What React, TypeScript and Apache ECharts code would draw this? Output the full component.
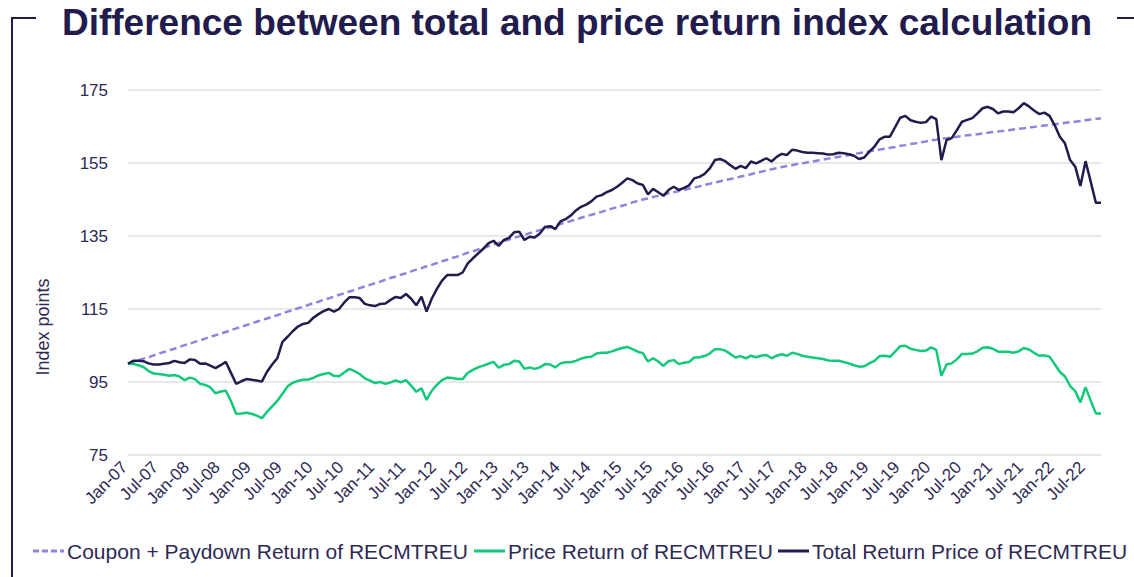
import React, { useEffect, useRef } from "react";
import * as echarts from "echarts";

const monthNames = ["Jan", "Feb", "Mar", "Apr", "May", "Jun", "Jul", "Aug", "Sep", "Oct", "Nov", "Dec"];
const startYear = 2007;
const monthCount = 190; // Jan-07 .. Oct-22
const categories: string[] = [];
for (let k = 0; k < monthCount; k++) {
  const y = startYear + Math.floor(k / 12);
  categories.push(`${monthNames[k % 12]}-${String(y).slice(2)}`);
}

const yTicks = { min: 75, max: 175, interval: 20 };

const couponPaydown = [
  100.0, 100.5, 100.9, 101.4, 101.8, 102.3, 102.8, 103.2, 103.7, 104.1,
  104.6, 105.1, 105.5, 106.0, 106.4, 106.9, 107.4, 107.8, 108.3, 108.7,
  109.2, 109.7, 110.1, 110.6, 111.0, 111.5, 112.0, 112.4, 112.9, 113.3,
  113.8, 114.3, 114.7, 115.2, 115.6, 116.1, 116.6, 117.0, 117.5, 117.9,
  118.4, 118.9, 119.3, 119.8, 120.2, 120.7, 121.2, 121.6, 122.1, 122.5,
  123.0, 123.5, 123.9, 124.4, 124.8, 125.3, 125.8, 126.2, 126.7, 127.1,
  127.6, 128.1, 128.5, 129.0, 129.4, 129.9, 130.4, 130.8, 131.3, 131.7,
  132.2, 132.7, 133.1, 133.6, 134.0, 134.5, 134.9, 135.3, 135.8, 136.2,
  136.6, 137.0, 137.4, 137.9, 138.3, 138.7, 139.1, 139.5, 140.0, 140.4,
  140.8, 141.2, 141.6, 142.1, 142.5, 142.9, 143.3, 143.7, 144.2, 144.6,
  145.0, 145.3, 145.7, 146.0, 146.3, 146.7, 147.0, 147.3, 147.6, 148.0,
  148.3, 148.6, 149.0, 149.3, 149.6, 150.0, 150.3, 150.6, 150.9, 151.3,
  151.6, 151.9, 152.3, 152.6, 152.9, 153.3, 153.6, 153.9, 154.2, 154.4,
  154.7, 154.9, 155.2, 155.4, 155.7, 155.9, 156.2, 156.4, 156.7, 156.9,
  157.2, 157.4, 157.7, 157.9, 158.2, 158.4, 158.7, 158.9, 159.2, 159.4,
  159.7, 159.9, 160.2, 160.4, 160.7, 160.9, 161.2, 161.4, 161.7, 161.8,
  162.0, 162.2, 162.4, 162.6, 162.7, 162.9, 163.1, 163.3, 163.5, 163.6,
  163.8, 164.0, 164.2, 164.4, 164.5, 164.7, 164.9, 165.1, 165.3, 165.4,
  165.6, 165.8, 166.0, 166.2, 166.3, 166.5, 166.7, 166.9, 167.1, 167.2,
];

const priceReturn = [
  100.0, 100.0, 99.6, 99.1, 98.0, 97.3, 97.2, 97.0, 96.7, 96.9,
  96.5, 95.5, 96.2, 95.8, 94.5, 94.2, 93.5, 91.9, 92.4, 92.6,
  89.8, 86.3, 86.4, 86.6, 86.3, 85.8, 85.1, 86.8, 88.3, 89.8,
  91.8, 93.8, 94.8, 95.3, 95.6, 95.7, 96.1, 96.8, 97.2, 97.5,
  96.7, 96.6, 97.6, 98.6, 98.0, 97.2, 96.0, 95.4, 94.7, 95.0,
  94.5, 94.9, 95.4, 94.9, 95.5, 94.0, 92.3, 93.3, 90.1, 92.6,
  94.2, 95.5, 96.2, 96.1, 95.8, 95.8, 97.5, 98.3, 99.0, 99.5,
  100.0, 100.5, 98.9, 99.7, 99.9, 100.8, 100.6, 98.6, 99.0, 98.6,
  99.0, 99.9, 99.8, 99.0, 100.1, 100.4, 100.4, 100.8, 101.4, 101.8,
  101.9, 102.8, 103.0, 103.0, 103.4, 103.9, 104.3, 104.6, 104.0, 103.3,
  102.9, 100.6, 101.5, 100.6, 99.4, 100.7, 101.0, 99.9, 100.3, 100.5,
  101.7, 101.8, 102.1, 102.8, 104.0, 104.0, 103.6, 102.7, 101.7, 102.1,
  101.5, 102.2, 101.8, 102.2, 102.4, 101.5, 102.2, 102.6, 102.2, 103.0,
  102.7, 102.2, 101.9, 101.7, 101.5, 101.3, 100.9, 100.8, 100.8, 100.5,
  100.1, 99.6, 99.2, 99.3, 100.1, 100.8, 102.1, 102.2, 101.9, 103.3,
  104.8, 104.9, 104.1, 103.8, 103.5, 103.6, 104.5, 103.8, 96.7, 99.8,
  100.1, 101.2, 102.7, 102.7, 102.8, 103.4, 104.4, 104.5, 104.1, 103.3,
  103.3, 103.3, 103.0, 103.4, 104.3, 103.9, 103.0, 102.2, 102.3, 101.9,
  99.9, 97.8, 96.5, 93.9, 92.5, 89.4, 93.6, 89.9, 86.4, 86.4,
];

const totalReturn = [
  100.0, 100.8, 100.8, 100.7, 100.1, 99.8, 99.8, 100.0, 100.2, 100.8,
  100.4, 100.2, 101.2, 101.0, 100.0, 100.1, 99.5, 98.8, 99.6, 100.5,
  97.5, 94.5, 95.2, 95.8, 95.6, 95.4, 95.1, 97.8, 99.8, 101.5,
  106.0, 107.4, 108.9, 110.2, 110.9, 111.2, 112.6, 113.6, 114.4, 115.0,
  114.3, 115.0, 116.8, 118.2, 118.2, 118.0, 116.4, 116.0, 115.8, 116.4,
  116.5, 117.5, 118.3, 118.0, 119.1, 117.8, 116.0, 118.4, 114.3, 117.8,
  120.5, 122.8, 124.3, 124.3, 124.3, 125.0, 127.5, 128.9, 130.2, 131.5,
  133.0, 133.7, 132.3, 133.9, 134.5, 136.0, 136.2, 133.9, 134.8, 134.6,
  135.7, 137.5, 137.7, 136.9, 139.0, 139.6, 140.6, 142.0, 143.0, 143.6,
  144.5, 145.8, 146.2, 147.0, 147.6, 148.5, 149.6, 150.8, 150.3, 149.4,
  149.0, 146.4, 147.9, 147.0, 146.0, 147.6, 148.5, 147.6, 148.2, 148.9,
  150.8, 151.2, 152.0, 153.5, 155.8, 156.1, 155.5, 154.4, 153.4, 154.2,
  153.6, 155.4, 154.9, 155.6, 156.3, 155.4, 156.7, 157.5, 157.2, 158.6,
  158.4, 158.0, 157.8, 157.8, 157.7, 157.6, 157.3, 157.4, 157.8, 157.7,
  157.4, 157.0, 156.1, 156.5, 158.1, 159.5, 161.5, 162.2, 162.2, 164.8,
  167.4, 167.9, 166.7, 166.3, 166.0, 166.2, 167.7, 167.0, 155.8, 161.3,
  161.8, 164.0, 166.3, 166.8, 167.3, 168.6, 170.0, 170.4, 169.8, 168.6,
  169.1, 169.1, 168.9, 170.0, 171.4, 170.5, 169.4, 168.4, 168.8, 167.9,
  165.4, 162.2, 160.4, 155.8, 154.0, 148.7, 155.5, 149.9, 144.1, 144.1,
];

const seriesNames = [
  "Coupon + Paydown Return of RECMTREU",
  "Price Return of RECMTREU",
  "Total Return Price of RECMTREU",
];

const titleText = "Difference between total and price return index calculation";
const yAxisName = "Index points";

const NAVY = "#221c4e";
const GREEN = "#12c97a";
const LAVENDER = "#8f84dd";
const TEXT = "#2e2a55";
const FONT = "Liberation Sans, Arial, sans-serif";

// legend layout (icon start x, text start x)
const legendY = 551;
const legendItems = [
  { name: seriesNames[0], color: LAVENDER, dash: [6, 3], iconX: 33, textX: 67 },
  { name: seriesNames[1], color: GREEN, dash: null, iconX: 474, textX: 508 },
  { name: seriesNames[2], color: NAVY, dash: null, iconX: 778, textX: 812 },
];

export default function App() {
  const ref = useRef<HTMLDivElement>(null);

  useEffect(() => {
    if (!ref.current) return;
    const chart = echarts.init(ref.current, null, { renderer: "svg" });

    const legendGraphics: any[] = [];
    legendItems.forEach((it) => {
      legendGraphics.push({
        type: "line",
        shape: { x1: it.iconX, y1: legendY, x2: it.iconX + 31, y2: legendY },
        style: { stroke: it.color, lineWidth: 3, lineDash: it.dash || undefined },
      });
      legendGraphics.push({
        type: "text",
        x: it.textX,
        y: legendY,
        style: {
          text: it.name,
          fill: TEXT,
          font: `21px ${FONT}`,
          align: "left",
          verticalAlign: "middle",
        },
      });
    });

    chart.setOption({
      animation: false,
      backgroundColor: "#ffffff",
      textStyle: { fontFamily: FONT },
      grid: { left: 128, right: 33, top: 90, bottom: 122 },
      xAxis: {
        type: "category",
        data: categories,
        boundaryGap: false,
        axisLine: { show: false },
        axisTick: { show: false },
        splitLine: { show: false },
        axisLabel: {
          interval: 5,
          rotate: 45,
          fontSize: 17,
          color: TEXT,
          fontFamily: FONT,
          margin: 6,
          padding: [0, 5, 10, 0],
        },
      },
      yAxis: {
        type: "value",
        min: yTicks.min,
        max: yTicks.max,
        interval: yTicks.interval,
        axisLine: { show: false },
        axisTick: { show: false },
        axisLabel: { fontSize: 17, color: TEXT, fontFamily: FONT, margin: 20 },
        splitLine: { lineStyle: { color: "#e0e0e0", width: 1.5 } },
      },
      graphic: [
        {
          type: "text",
          x: 577,
          y: 22,
          style: {
            text: titleText,
            fill: NAVY,
            font: `bold 37px ${FONT}`,
            align: "center",
            verticalAlign: "middle",
          },
        },
        {
          type: "text",
          x: 43,
          y: 327,
          rotation: Math.PI / 2,
          style: {
            text: yAxisName,
            fill: TEXT,
            font: `18px ${FONT}`,
            align: "center",
            verticalAlign: "middle",
          },
        },
        {
          type: "polyline",
          shape: { points: [[36, 18], [12, 18], [12, 577]] },
          style: { stroke: NAVY, lineWidth: 2, fill: null },
        },
        {
          type: "line",
          shape: { x1: 1117, y1: 18, x2: 1134, y2: 18 },
          style: { stroke: NAVY, lineWidth: 2 },
        },
        ...legendGraphics,
      ],
      series: [
        {
          name: seriesNames[0],
          type: "line",
          data: couponPaydown,
          symbol: "none",
          lineStyle: { color: LAVENDER, width: 2.5, type: [7, 4] },
          itemStyle: { color: LAVENDER },
          z: 2,
        },
        {
          name: seriesNames[1],
          type: "line",
          data: priceReturn,
          symbol: "none",
          lineStyle: { color: GREEN, width: 2.5 },
          itemStyle: { color: GREEN },
          z: 3,
        },
        {
          name: seriesNames[2],
          type: "line",
          data: totalReturn,
          symbol: "none",
          lineStyle: { color: NAVY, width: 2.5 },
          itemStyle: { color: NAVY },
          z: 4,
        },
      ],
    });
    return () => chart.dispose();
  }, []);

  return (
    <div
      ref={ref}
      style={{ position: "fixed", left: 0, top: 0, width: 1134, height: 577, background: "#fff" }}
    />
  );
}
